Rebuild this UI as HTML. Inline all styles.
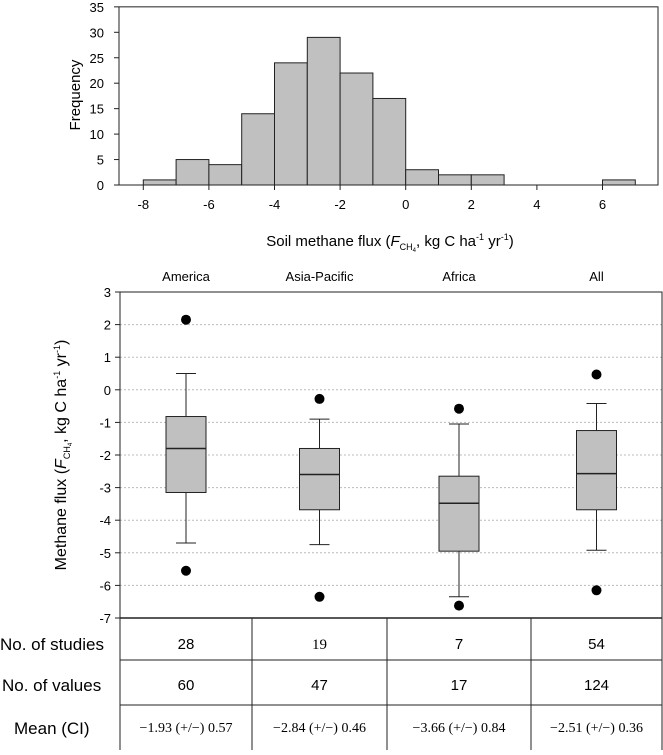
<!DOCTYPE html>
<html><head><meta charset="utf-8"><style>
body{margin:0;background:#fff;}
svg text{font-family:"Liberation Sans",sans-serif;}
.serif{font-family:"Liberation Serif",serif !important;}
</style></head><body>
<svg width="663" height="750" xmlns="http://www.w3.org/2000/svg">
<g id="hist"></g>
<g id="box"></g>
<g id="tbl"></g>
</svg>
<script>
const binStarts=[-8,-7,-6,-5,-4,-3,-2,-1,0,1,2,3,4,5,6];
const binCounts=[1,5,4,14,24,29,22,17,3,2,2,0,0,0,1];
const histXTicks=[-8,-6,-4,-2,0,2,4,6];
const histYTicks=[0,5,10,15,20,25,30,35];
const regions=["America","Asia-Pacific","Africa","All"];
const whiskerHi=[0.5,-0.9,-1.05,-0.42];
const q3=[-0.82,-1.8,-2.65,-1.25];
const median=[-1.8,-2.6,-3.48,-2.57];
const q1=[-3.15,-3.68,-4.95,-3.68];
const whiskerLo=[-4.7,-4.75,-6.35,-4.92];
const outHi=[2.15,-0.28,-0.58,0.47];
const outLo=[-5.55,-6.35,-6.62,-6.15];
const boxYTicks=[3,2,1,0,-1,-2,-3,-4,-5,-6,-7];
const nStudies=["28","19","7","54"];
const nValues=["60","47","17","124"];
const meanCI=["\u22121.93 (+/\u2212) 0.57","\u22122.84 (+/\u2212) 0.46","\u22123.66 (+/\u2212) 0.84","\u22122.51 (+/\u2212) 0.36"];

const NS="http://www.w3.org/2000/svg";
function mk(p,t,a,txt){const e=document.createElementNS(NS,t);for(const k in a)e.setAttribute(k,a[k]);if(txt!==undefined)e.textContent=txt;p.appendChild(e);return e;}

// histogram
const H=document.getElementById('hist');
const hx=v=>143.3+(v+8)*32.8, hy=v=>185-v*5.09;
mk(H,'rect',{x:119,y:hy(35),width:539,height:185-hy(35),fill:'none',stroke:'#222','stroke-width':1});
binStarts.forEach((b,i)=>{if(!binCounts[i])return;
 const r=mk(H,'rect',{x:hx(b),y:hy(binCounts[i]),width:hx(b+1)-hx(b),height:185-hy(binCounts[i]),fill:'#c0c0c0',stroke:'#222','stroke-width':1});
 
 });
histXTicks.forEach(v=>{mk(H,'line',{x1:hx(v),x2:hx(v),y1:185,y2:190,stroke:'#222'});
 mk(H,'text',{x:hx(v),y:209,'font-size':13,'text-anchor':'middle'},String(v));});
histYTicks.forEach(v=>{mk(H,'line',{x1:114,x2:119,y1:hy(v),y2:hy(v),stroke:'#222'});
 mk(H,'text',{x:104,y:hy(v)+5,'font-size':13,'text-anchor':'end'},String(v));});
let t=mk(H,'text',{x:0,y:0,'font-size':15,'text-anchor':'middle',transform:'translate(80,95) rotate(-90)'},'Frequency');

t=mk(H,'text',{x:390,y:246,'font-size':15,'text-anchor':'middle'});
t.innerHTML='Soil methane flux (<tspan font-style="italic">F</tspan><tspan font-size="9" dy="4">CH</tspan><tspan font-size="6" dy="2">4</tspan><tspan dy="-6">, kg C ha</tspan><tspan font-size="9" dy="-6">-1</tspan><tspan dy="6"> yr</tspan><tspan font-size="9" dy="-6">-1</tspan><tspan dy="6">)</tspan>';


// box plot
const B=document.getElementById('box');
const by=v=>292+(3-v)*32.6;
const cols=[120,252,387,531,662];
const cx=i=>(cols[i]+cols[i+1])/2;
boxYTicks.forEach(v=>{ if(v>-7&&v<3) mk(B,'line',{x1:120,x2:662,y1:by(v),y2:by(v),stroke:'#bbb','stroke-dasharray':'2,2'});
 mk(B,'line',{x1:115,x2:120,y1:by(v),y2:by(v),stroke:'#222'});
 mk(B,'text',{x:111,y:by(v)+5,'font-size':13,'text-anchor':'end'},String(v));});
mk(B,'rect',{x:120,y:by(3),width:542,height:by(-7)-by(3),fill:'none',stroke:'#222'});
regions.forEach((r,i)=>{
 const c=cx(i), w=20;
 const h=mk(B,'text',{x:c,y:281,'font-size':13,'text-anchor':'middle'},r);
 
 mk(B,'line',{x1:c,x2:c,y1:by(whiskerHi[i]),y2:by(q3[i]),stroke:'#222'});
 mk(B,'line',{x1:c,x2:c,y1:by(q1[i]),y2:by(whiskerLo[i]),stroke:'#222'});
 mk(B,'line',{x1:c-10,x2:c+10,y1:by(whiskerHi[i]),y2:by(whiskerHi[i]),stroke:'#222'});
 mk(B,'line',{x1:c-10,x2:c+10,y1:by(whiskerLo[i]),y2:by(whiskerLo[i]),stroke:'#222'});
 const bx=mk(B,'rect',{x:c-w,y:by(q3[i]),width:2*w,height:by(q1[i])-by(q3[i]),fill:'#c0c0c0',stroke:'#222'});
 
 mk(B,'line',{x1:c-w,x2:c+w,y1:by(median[i]),y2:by(median[i]),stroke:'#222','stroke-width':1.5});
 [outHi[i],outLo[i]].forEach(o=>{const d=mk(B,'circle',{cx:c,cy:by(o),r:5,fill:'#000'});
  });
});
t=mk(B,'text',{x:0,y:0,'font-size':16,'text-anchor':'middle',transform:'translate(66,455) rotate(-90)'});
t.innerHTML='Methane flux (<tspan font-style="italic">F</tspan><tspan font-size="9" dy="4">CH</tspan><tspan font-size="6" dy="2">4</tspan><tspan dy="-6">, kg C ha</tspan><tspan font-size="9" dy="-6">-1</tspan><tspan dy="6"> yr</tspan><tspan font-size="9" dy="-6">-1</tspan><tspan dy="6">)</tspan>';


// table
const T=document.getElementById('tbl');
mk(T,'line',{x1:120,x2:662,y1:by(-7),y2:by(-7),stroke:'#222','stroke-width':1.5});
[660,705].forEach(y=>mk(T,'line',{x1:120,x2:662,y1:y,y2:y,stroke:'#222'}));
cols.slice(1).forEach(x=>mk(T,'line',{x1:x,x2:x,y1:by(-7),y2:750,stroke:'#222'}));
mk(T,'line',{x1:120,x2:120,y1:by(-7),y2:750,stroke:'#222'});
mk(T,'text',{x:0,y:650,'font-size':17},'No. of studies');
mk(T,'text',{x:2,y:691,'font-size':17},'No. of values');
mk(T,'text',{x:14,y:734,'font-size':17},'Mean (CI)');
regions.forEach((r,i)=>{const c=cx(i);
 mk(T,'text',{x:c,y:649,'font-size':15,'text-anchor':'middle',class:i==1?'serif':''},nStudies[i]);
 mk(T,'text',{x:c,y:690,'font-size':15,'text-anchor':'middle'},nValues[i]);
 mk(T,'text',{x:c,y:732,'font-size':14,'text-anchor':'middle',class:'serif'},meanCI[i]);});
</script>
</body></html>
